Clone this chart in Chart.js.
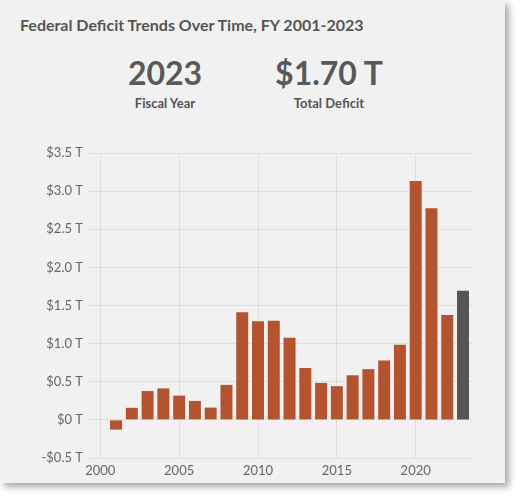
<!DOCTYPE html>
<html>
<head>
<meta charset="utf-8">
<script src="https://cdn.jsdelivr.net/npm/chart.js@4.4.1/dist/chart.umd.min.js"></script>
<style>
  body { margin: 0; background: #fff; font-family: Lato, "Noto Sans", sans-serif; }
  #card {
    position: absolute; left: 0; top: 0; width: 505px; height: 483px;
    background: #f1f1f1;
    box-shadow: 4px 4px 7px rgba(0,0,0,0.35);
  }
  #title { position: absolute; left: 20px; top: 15px; font-size: 16px; font-weight: 700; color: #555; white-space: nowrap; }
  .stat { position: absolute; top: 55px; width: 180px; text-align: center; color: #595959; }
  .stat .big { font-size: 32px; font-weight: 700; line-height: 36px; }
  .stat .small { font-size: 13px; font-weight: 700; margin-top: 4px; color: #555; }
  #chartBox { position: absolute; left: 0; top: 140px; }
</style>
</head>
<body>
<div id="card">
  <div id="title">Federal Deficit Trends Over Time, FY 2001-2023</div>
  <div class="stat" style="left:75px"><div class="big" id="yearText"></div><div class="small">Fiscal Year</div></div>
  <div class="stat" style="left:239px"><div class="big" id="deficitText"></div><div class="small">Total Deficit</div></div>
  <div id="chartBox"><canvas id="deficit-chart" width="505" height="342"></canvas></div>
</div>
<script>
// fiscal years and deficits (trillions of dollars, surplus is negative)
const years = [2001, 2002, 2003, 2004, 2005, 2006, 2007, 2008, 2009, 2010, 2011, 2012,
  2013, 2014, 2015, 2016, 2017, 2018, 2019, 2020, 2021, 2022, 2023];
const deficits = [-0.128, 0.158, 0.378, 0.413, 0.318, 0.248, 0.161, 0.459, 1.413, 1.294, 1.300, 1.077,
  0.680, 0.485, 0.442, 0.585, 0.665, 0.779, 0.984, 3.132, 2.775, 1.375, 1.695];
const yTicks = [-0.5, 0, 0.5, 1.0, 1.5, 2.0, 2.5, 3.0, 3.5];
const xTicks = [2000, 2005, 2010, 2015, 2020];

const barColor = '#b3532f';
const selectedColor = '#555555';
const selected = years.length - 1;

document.getElementById('yearText').textContent = years[selected];
document.getElementById('deficitText').textContent = '$' + deficits[selected].toFixed(2) + ' T';

function money(v) {
  if (v === 0) return '$0 T';
  return (v < 0 ? '-' : '') + '$' + Math.abs(v).toFixed(1) + ' T';
}

const ctx = document.getElementById('deficit-chart').getContext('2d');
const deficitChart = new Chart(ctx, {
  type: 'bar',
  data: {
    datasets: [{
      data: years.map((yr, i) => ({ x: yr, y: deficits[i] })),
      backgroundColor: years.map((yr, i) => i === selected ? selectedColor : barColor),
      borderWidth: 0,
      categoryPercentage: 1,
      barPercentage: 0.76
    }]
  },
  options: {
    responsive: false,
    animation: false,
    layout: { padding: { top: 13, right: 33, left: 0, bottom: 0 } },
    plugins: { legend: { display: false }, tooltip: { enabled: false } },
    scales: {
      x: {
        type: 'linear',
        offset: false,
        min: 1999.22,
        max: 2023.57,
        border: { display: false },
        grid: { color: '#dedede', drawTicks: false, offset: false },
        afterBuildTicks: (scale) => { scale.ticks = xTicks.map(v => ({ value: v })); },
        afterFit: (scale) => { scale.height = 24; },
        ticks: {
          padding: 5,
          color: '#666',
          font: { family: 'Lato', size: 13 },
          callback: (v) => String(v)
        }
      },
      y: {
        min: -0.5,
        max: 3.5,
        border: { display: false },
        grid: { color: '#dedede', drawTicks: false },
        afterBuildTicks: (scale) => { scale.ticks = yTicks.map(v => ({ value: v })); },
        afterFit: (scale) => { scale.width = 88; },
        ticks: {
          padding: 5,
          color: '#666',
          font: { family: 'Lato', size: 13 },
          callback: (v) => money(v)
        }
      }
    }
  }
});
</script>
</body>
</html>
